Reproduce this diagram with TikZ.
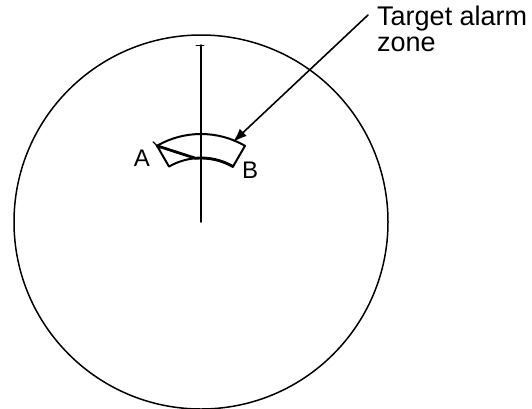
\documentclass[tikz,border=0pt]{standalone}
\usepackage{fontspec}
\setmainfont{Liberation Sans}
\usetikzlibrary{arrows.meta}

\begin{document}
\begin{tikzpicture}[
  x=1pt,
  y=-1pt,
  line cap=round,
  line join=round
]
  \useasboundingbox (0,0) rectangle (532,408);

  % Экран индикатора
  \def\rscope{187}
  \coordinate (centre) at (201,222);

  \draw[line width=1.5pt]
    (centre) circle[radius=\rscope];

  % Линия курса
  \coordinate (headtop) at (201,45);
  \draw[line width=1.5pt]
    (centre) -- (headtop);
  \draw[line width=0.8pt]
    ([xshift=-5pt]headtop) -- ([xshift=3pt]headtop);

  % Зона тревоги
  \def\rin{64}
  \def\rout{88}

  \draw[line width=2pt]
    ([shift={(-60:\rin)}]centre)
    arc[start angle=-60, end angle=-120, radius=\rin]
    -- ([shift={(-120:\rout)}]centre)
    arc[start angle=-120, end angle=-60, radius=\rout]
    -- cycle;

  % Отрезок AB
  \coordinate (ptA) at ([shift={(-120:\rout)}]centre);
  \coordinate (ptB) at ([shift={(-60:\rin)}]centre);
  \coordinate (ptJ) at ([shift={(-95:\rin)}]centre);

  \draw[line width=2.8pt]
    (ptA) -- (ptJ)
    arc[start angle=-95, end angle=-60, radius=\rin];

  \draw[line width=1.3pt]
    ([shift={(-4,-4)}]ptA) -- ([shift={(3,3)}]ptA);

  \node[font=\fontsize{24}{24}\selectfont] (labA) at (142,158) {A};
  \node[font=\fontsize{24}{24}\selectfont] (labB) at (250,170) {B};

  % Подпись и стрелка
  \node[
    anchor=north west,
    align=left,
    inner sep=0pt,
    font=\fontsize{27}{26}\selectfont
  ] (zone) at (377,6) {Target alarm\\zone};

  \coordinate (lead) at (368,15);
  \coordinate (tip) at (233,142);

  \draw[line width=1.6pt,-{Latex[length=14pt,width=10pt]}]
    (lead) -- (tip);
\end{tikzpicture}
\end{document}
